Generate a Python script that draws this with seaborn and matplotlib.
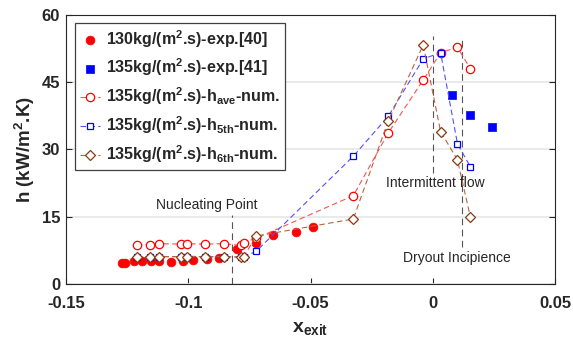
import matplotlib
matplotlib.use("Agg")
import matplotlib.pyplot as plt
import seaborn as sns
import pandas as pd

# Experimental data, G = 130 kg/(m2.s), ref. [40]
x_exp40 = [-0.1272, -0.1259, -0.1222, -0.1190, -0.1154, -0.1120, -0.1072, -0.1023,
           -0.0982, -0.0925, -0.0873, -0.0802, -0.0723, -0.0652, -0.0559, -0.0489]
h_exp40 = [4.6, 4.6, 5.2, 5.1, 5.2, 5.2, 4.9, 5.1, 5.3, 5.5, 5.8, 7.9, 9.1, 10.9, 11.5, 12.7]

# Experimental data, G = 135 kg/(m2.s), ref. [41]
x_exp41 = [0.0080, 0.0151, 0.0241]
h_exp41 = [42.1, 37.7, 35.0]

# Numerical results, G = 135 kg/(m2.s)
x_num = [-0.1211, -0.1156, -0.1118, -0.1031, -0.1006, -0.0931, -0.0854, -0.0785,
         -0.0774, -0.0722, -0.0325, -0.0182, -0.0039, 0.0032, 0.0101, 0.0154]
h_ave = [8.8, 8.8, 9.0, 8.9, 9.0, 8.9, 9.0, 8.6, 9.2, 10.2, 19.7, 33.7, 45.5, 51.6, 52.8, 48.0]
h_5th = [6.1, 6.1, 6.1, 6.1, 6.1, 6.1, 6.1, 6.0, 6.0, 7.3, 28.5, 37.4, 50.2, 51.6, 31.3, 26.1]
h_6th = [6.1, 6.1, 6.1, 6.1, 6.1, 6.1, 6.1, 6.0, 6.0, 10.7, 14.5, 36.4, 53.3, 34.0, 27.7, 14.9]

# Flow-regime markers
x_nucleating = -0.082
x_intermittent = 0.0
x_dryout = 0.012

x_ticks = [-0.15, -0.1, -0.05, 0, 0.05]
x_ticklabels = ["-0.15", "-0.1", "-0.05", "0", "0.05"]
y_ticks = [0, 15, 30, 45, 60]

sns.set_style("ticks")
plt.rcParams["font.family"] = ["Liberation Sans", "DejaVu Sans"]
plt.rcParams["mathtext.fontset"] = "custom"
plt.rcParams["mathtext.rm"] = "Liberation Sans:bold"
plt.rcParams["mathtext.it"] = "Liberation Sans:bold"
plt.rcParams["mathtext.bf"] = "Liberation Sans:bold"
plt.rcParams["mathtext.default"] = "bf"

fig = plt.figure(figsize=(5.73, 3.51), dpi=100)
ax = fig.add_axes([0.1152, 0.1909, 0.8534, 0.7664])

df40 = pd.DataFrame({"x": x_exp40, "h": h_exp40})
df41 = pd.DataFrame({"x": x_exp41, "h": h_exp41})
dfn = pd.DataFrame({"x": x_num, "ave": h_ave, "h5": h_5th, "h6": h_6th})

sns.scatterplot(data=df40, x="x", y="h", ax=ax, marker="o", s=40, color="#ff0000",
                edgecolor="#ff0000", linewidth=0.5, zorder=3,
                label="130kg/(m$^2$.s)-exp.[40]")
sns.scatterplot(data=df41, x="x", y="h", ax=ax, marker="s", s=30, color="#0000ff",
                edgecolor="#0000ff", linewidth=0.5, zorder=3,
                label="135kg/(m$^2$.s)-exp.[41]")
sns.lineplot(data=dfn, x="x", y="ave", ax=ax, estimator=None, sort=False,
             color="#ff5050", linestyle=(0, (5, 3)), linewidth=0.8,
             marker="o", markersize=6, markerfacecolor="white",
             markeredgecolor="#ff0000", markeredgewidth=0.9, zorder=4,
             label="135kg/(m$^2$.s)-h$_{ave}$-num.")
sns.lineplot(data=dfn, x="x", y="h5", ax=ax, estimator=None, sort=False,
             color="#5050ff", linestyle=(0, (5, 3)), linewidth=0.8,
             marker="s", markersize=5, markerfacecolor="white",
             markeredgecolor="#0000ff", markeredgewidth=0.9, zorder=4,
             label="135kg/(m$^2$.s)-h$_{5th}$-num.")
sns.lineplot(data=dfn, x="x", y="h6", ax=ax, estimator=None, sort=False,
             color="#b8643c", linestyle=(0, (5, 3)), linewidth=0.8,
             marker="D", markersize=5.5, markerfacecolor="white",
             markeredgecolor="#8b3a0f", markeredgewidth=0.9, zorder=5,
             label="135kg/(m$^2$.s)-h$_{6th}$-num.")

# Regime boundaries
ax.plot([x_nucleating, x_nucleating], [0, 15.4], color="#555555",
        linestyle=(0, (6, 4)), linewidth=0.8, zorder=2)
ax.plot([x_intermittent, x_intermittent], [24.8, 55.3], color="#555555",
        linestyle=(0, (6, 4)), linewidth=0.8, zorder=2)
ax.plot([x_dryout, x_dryout], [8.3, 55.3], color="#555555",
        linestyle=(0, (6, 4)), linewidth=0.8, zorder=2)

ax.text(-0.0923, 17.6, "Nucleating Point", ha="center", va="center", fontsize=10)
ax.text(0.0009, 22.5, "Intermittent flow", ha="center", va="center", fontsize=10)
ax.text(0.0099, 5.8, "Dryout Incipience", ha="center", va="center", fontsize=10)

ax.set_xlim(-0.15, 0.05)
ax.set_ylim(0, 60)
ax.set_xticks(x_ticks)
ax.set_xticklabels(x_ticklabels)
ax.set_yticks(y_ticks)
for lbl in ax.get_xticklabels() + ax.get_yticklabels():
    lbl.set_fontweight("bold")
    lbl.set_fontsize(12)
ax.tick_params(direction="in", length=4, width=0.8, top=False, right=True)
ax.tick_params(axis="x", pad=9)
ax.tick_params(axis="y", pad=4.3)
ax.yaxis.grid(True, color="#e6e6e6", linewidth=1.2)
ax.set_axisbelow(True)
for sp in ax.spines.values():
    sp.set_visible(True)
    sp.set_linewidth(0.8)
    sp.set_color("#262626")

ax.set_xlabel("x$_{exit}$", fontsize=14, fontweight="bold", labelpad=6)
ax.set_ylabel("h (kW/m$^2$.K)", fontsize=13.5, fontweight="bold", labelpad=3)

leg = ax.legend(loc="upper left", bbox_to_anchor=(0.018, 0.97), frameon=True,
                fancybox=False, edgecolor="#404040", framealpha=1,
                prop={"weight": "bold", "size": 11.5}, labelspacing=0.45,
                handlelength=1.3, handletextpad=0.35, borderpad=0.3,
                borderaxespad=0)
leg.get_frame().set_linewidth(0.9)

fig.savefig("out.png", dpi=100)
